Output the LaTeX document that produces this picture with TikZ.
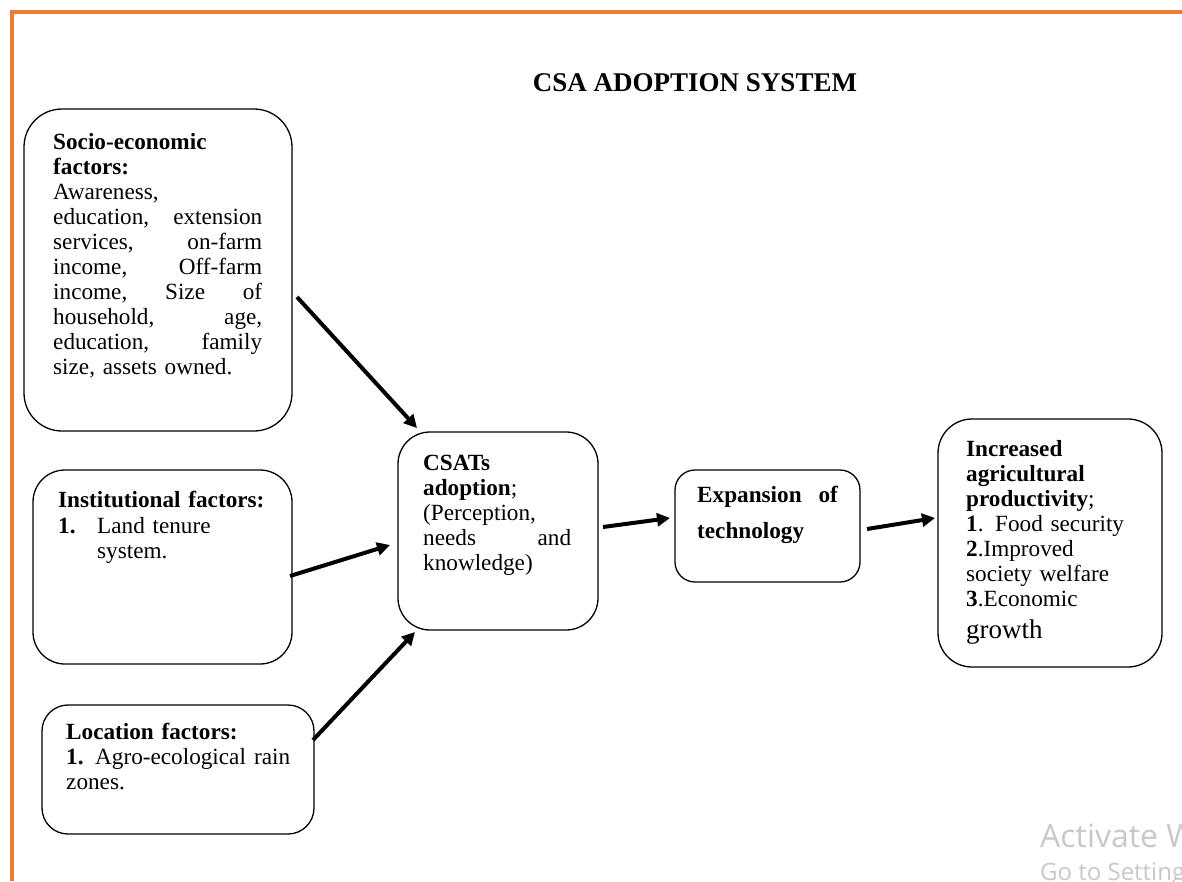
\documentclass[tikz,border=0pt]{standalone}
\usepackage{fontspec}
\setmainfont{Liberation Serif}
\newfontfamily\wmfont{Open Sans}
\usepackage{xcolor}
\usepackage{tikz}
\usetikzlibrary{arrows.meta,positioning}
\definecolor{frameorange}{HTML}{ED7D31}
\definecolor{wmgray}{HTML}{C8C8C8}

\begin{document}
\begin{tikzpicture}[x=1pt, y=-1pt,
    box/.style={draw, line width=1.3pt, inner sep=0pt, outer sep=0pt},
    txt/.style={anchor=base west, inner sep=0pt, align=left,
      font=\fontsize{23.2}{25}\selectfont},
    arr/.style={line width=4pt, -{Triangle[length=13pt,width=13pt]}}]
    \useasboundingbox (0,0) rectangle (1182,881);

    % Frame
    \draw [frameorange, line width=4pt] (12,881) -- (12,12) -- (1182,12);

    % Title
    \node [anchor=base, inner sep=0pt, font=\fontsize{27}{30}\selectfont\bfseries] (title) at (695,91) {CSA ADOPTION SYSTEM};

    % Factor boxes
    \node [box, rounded corners=38pt, minimum width=268pt, minimum height=322pt] (socio) at (158,270) {};
    \node [box, rounded corners=32pt, minimum width=259pt, minimum height=194pt] (inst) at (162.5,567) {};
    \node [box, rounded corners=26pt, minimum width=272pt, minimum height=129pt] (loc) at (178,769.5) {};

    \node [txt, text width=209pt] (socioTxt) at (53,149) {%
      \textbf{Socio-economic}\\
      \textbf{factors:}\\
      Awareness,\\
      education,\hfill extension\\
      services,\hfill on-farm\\
      income,\hfill Off-farm\\
      income,\hfill Size\hfill of\\
      household,\hfill age,\\
      education,\hfill family\\
      size, assets owned.};
    \node [txt, text width=215pt] (instTxt) at (58,507) {%
      \textbf{Institutional factors:}\\[1pt]
      \makebox[39pt][l]{\textbf{1.}}Land tenure\\
      \hspace*{39pt}system.};
    \node [txt, text width=224pt] (locTxt) at (66,739) {%
      \textbf{Location factors:}\\
      \textbf{1.} Agro-ecological\hfill rain\\
      zones.};

    % Middle and right boxes
    \node [box, rounded corners=32pt, minimum width=200pt, minimum height=198pt] (csat) at (498,531) {};
    \node [box, rounded corners=20pt, minimum width=185pt, minimum height=112pt] (expn) at (767.5,526) {};
    \node [box, rounded corners=34pt, minimum width=224pt, minimum height=248pt] (incr) at (1050,543) {};

    \node [txt, text width=148pt] (csatTxt) at (423,470) {%
      \textbf{CSATs}\\
      \textbf{adoption};\\
      (Perception,\\
      needs\hfill and\\
      knowledge)};
    \node [txt, text width=141pt, font=\fontsize{23.2}{36}\selectfont] (expnTxt) at (697,502) {%
      \textbf{Expansion\hfill of}\\
      \textbf{technology}};
    \node [txt, text width=190pt] (incrTxt) at (966,456) {%
      \textbf{Increased}\\
      \textbf{agricultural}\\
      \textbf{productivity};\\
      \textbf{1}. Food security\\
      \textbf{2}.Improved\\
      society welfare\\
      \textbf{3}.Economic\par
      {\fontsize{27}{32}\selectfont growth\par}};

    % Arrows
    \draw [arr] ([xshift=5pt,yshift=-27pt]socio.east) -- ([xshift=19pt,yshift=4pt]csat.north west);
    \draw [arr] ([xshift=-2pt,yshift=-9pt]inst.east) -- ([xshift=-8pt,yshift=-14pt]csat.west);
    \draw [arr] ([xshift=-1pt,yshift=29.5pt]loc.east) -- ([xshift=17pt,yshift=-2pt]csat.south west);
    \draw [arr] ([xshift=5pt,yshift=4pt]csat.east) -- ([xshift=-5pt,yshift=8pt]expn.west);
    \draw [arr] ([xshift=7pt,yshift=-3pt]expn.east) -- ([xshift=-3pt,yshift=25pt]incr.west);

    % Watermark
    \node [anchor=base west, inner sep=0pt, text=wmgray, font=\wmfont\fontsize{32}{36}\selectfont] (wm1) at (1040,847) {Activate Windows};
    \node [anchor=base west, inner sep=0pt, text=wmgray, font=\wmfont\fontsize{24}{28}\selectfont] (wm2) at (1040,880) {Go to Settings to activate Windows.};
\end{tikzpicture}
\end{document}
